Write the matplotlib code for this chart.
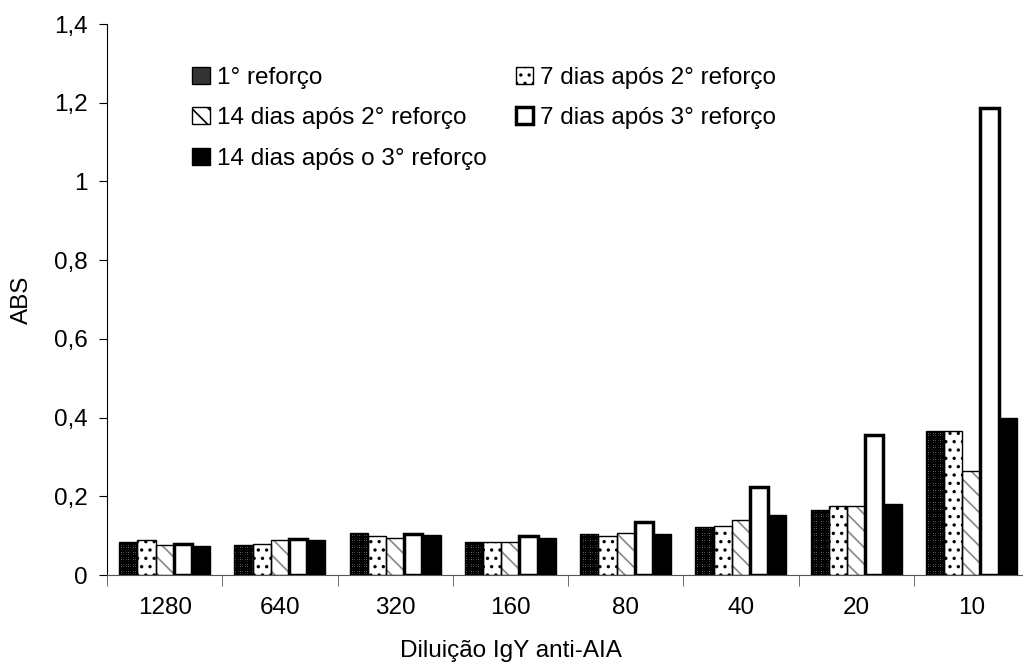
import numpy as np
import matplotlib
matplotlib.use("Agg")
import matplotlib.pyplot as plt
from matplotlib.patches import Patch
from matplotlib.ticker import FuncFormatter

plt.rcParams["font.family"] = ["Liberation Sans", "DejaVu Sans"]
plt.rcParams["hatch.linewidth"] = 1.2

# dados
diluicoes = ["1280", "640", "320", "160", "80", "40", "20", "10"]
series = [
    "1° reforço",
    "7 dias após 2° reforço",
    "14 dias após 2° reforço",
    "7 dias após 3° reforço",
    "14 dias após o 3° reforço",
]
reforco_1 = [0.085, 0.076, 0.106, 0.083, 0.104, 0.122, 0.165, 0.365]
d7_reforco_2 = [0.089, 0.080, 0.099, 0.085, 0.098, 0.125, 0.175, 0.367]
d14_reforco_2 = [0.075, 0.090, 0.095, 0.085, 0.106, 0.140, 0.175, 0.265]
d7_reforco_3 = [0.079, 0.091, 0.105, 0.100, 0.134, 0.224, 0.355, 1.187]
d14_reforco_3 = [0.074, 0.090, 0.102, 0.093, 0.104, 0.152, 0.180, 0.400]
valores = [reforco_1, d7_reforco_2, d14_reforco_2, d7_reforco_3, d14_reforco_3]

# estilos: (cor de fundo, hatch, cor do hatch, espessura da borda)
estilos = [
    ("white", "+++++++", "black", 1.0),
    ("white", "..", "black", 1.0),
    ("white", "\\\\", "#888888", 1.0),
    ("white", "", "black", 2.5),
    ("black", "", "black", 1.0),
]

fs = 17.5
fig = plt.figure(figsize=(10.23, 6.71), dpi=100)
ax = fig.add_axes([107 / 1023, 96 / 671, 922 / 1023, 551 / 671])

x = np.arange(len(diluicoes))
w = 0.158
for i, (vals, (fc, hatch, hc, lw)) in enumerate(zip(valores, estilos)):
    pos = x + (i - 2) * w
    if hatch:
        ax.bar(pos, vals, w, color=fc, edgecolor=hc, hatch=hatch, linewidth=0, zorder=2)
        ax.bar(pos, vals, w, fill=False, edgecolor="black", linewidth=lw, zorder=3)
    else:
        ax.bar(pos, vals, w, color=fc, edgecolor="black", linewidth=lw, zorder=3)

ax.set_xlim(-0.5, len(diluicoes) - 0.5)
ax.set_ylim(0, 1.4)
ax.set_yticks(np.arange(0, 1.41, 0.2))
ax.yaxis.set_major_formatter(FuncFormatter(lambda v, p: f"{v:g}".replace(".", ",")))
ax.set_xticks(x)
ax.set_xticklabels(diluicoes)
ax.set_xticks(np.arange(-0.5, len(diluicoes)), minor=True)
ax.tick_params(axis="x", which="major", length=0, pad=16, labelsize=fs)
ax.tick_params(axis="x", which="minor", length=8, direction="out", color="#555555")
ax.tick_params(axis="y", length=6, direction="out", labelsize=fs, pad=8)
for s in ["top", "right"]:
    ax.spines[s].set_visible(False)
ax.spines["bottom"].set_color("#555555")

ax.set_xlabel("Diluição IgY anti-AIA", fontsize=fs, va="center")
ax.xaxis.set_label_coords((511 - 107) / 922, -76 / 551)
ax.set_ylabel("ABS", fontsize=fs, va="center")
ax.yaxis.set_label_coords(-85 / 922, 0.5)

handles = []
for fc, hatch, hc, lw in estilos:
    if hatch == "+++++++":
        handles.append(Patch(facecolor="#333333", edgecolor="black", linewidth=1))
    else:
        handles.append(Patch(facecolor=fc, edgecolor="black", hatch=hatch, linewidth=lw))
ordem = [0, 2, 4, 1, 3]
ax.legend([handles[k] for k in ordem], [series[k] for k in ordem], ncol=2,
          frameon=False, fontsize=fs, handlelength=0.7, handleheight=0.7,
          handletextpad=0.3, columnspacing=1.2, labelspacing=0.76,
          loc="upper left", bbox_to_anchor=(0.069, 0.962))

fig.savefig("out.png", dpi=100)
